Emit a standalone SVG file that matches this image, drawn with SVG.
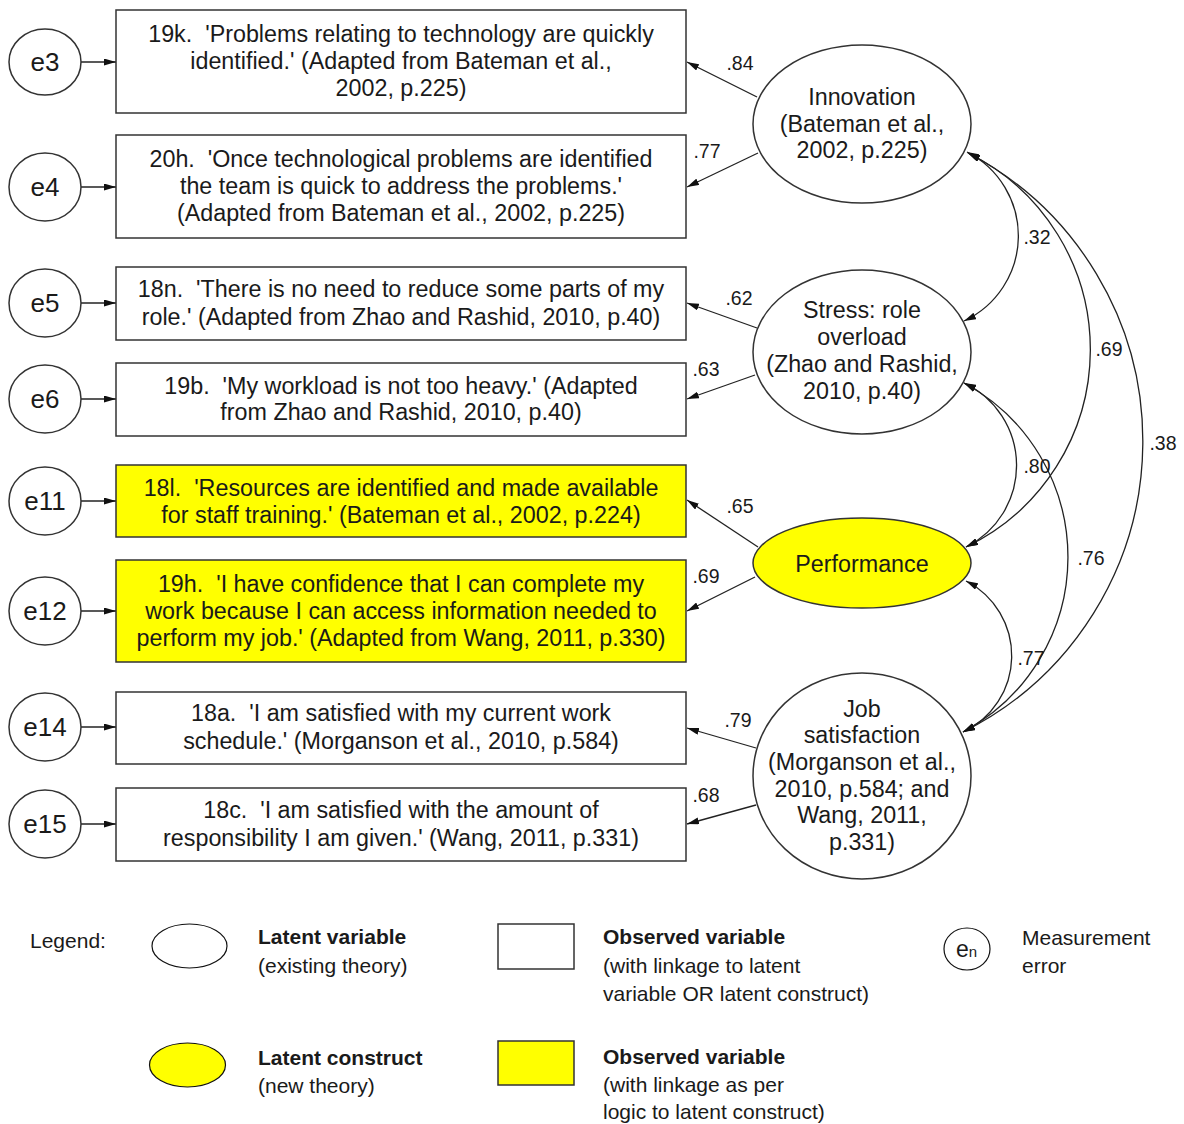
<svg xmlns="http://www.w3.org/2000/svg" width="1184" height="1124" viewBox="0 0 1184 1124">
<style>
.box{fill:#fff;stroke:#333;stroke-width:1.5}
.ybox{fill:#ff0;stroke:#333;stroke-width:1.5}
.ell{fill:#fff;stroke:#333;stroke-width:1.5}
.yell{fill:#ff0;stroke:#333;stroke-width:1.5}
text{font-family:"Liberation Sans",Arial,sans-serif;fill:#1a1a1a}
.t{font-size:23.3px;text-anchor:middle;white-space:pre}
.e{font-size:26px;text-anchor:middle}
.lbl{font-size:19.5px;text-anchor:middle}
.lg{font-size:21px}
.lgb{font-size:21px;font-weight:bold}
.conn{fill:none;stroke:#222;stroke-width:1.3}
</style>
<defs>
<marker id="ah" viewBox="0 0 12 7" refX="12" refY="3.5" markerWidth="12" markerHeight="7" markerUnits="userSpaceOnUse" orient="auto-start-reverse">
<path d="M0,0 L12,3.5 L0,7 z" fill="#111"/>
</marker>
</defs>

<g id="connectors">
<path class="conn" d="M81,62 L116,62" marker-end="url(#ah)"/>
<path class="conn" d="M81,187 L116,187" marker-end="url(#ah)"/>
<path class="conn" d="M81,303 L116,303" marker-end="url(#ah)"/>
<path class="conn" d="M81,399 L116,399" marker-end="url(#ah)"/>
<path class="conn" d="M81,501 L116,501" marker-end="url(#ah)"/>
<path class="conn" d="M81,611 L116,611" marker-end="url(#ah)"/>
<path class="conn" d="M81,727 L116,727" marker-end="url(#ah)"/>
<path class="conn" d="M81,824 L116,824" marker-end="url(#ah)"/>
<path class="conn" d="M757,97 L687,62" marker-end="url(#ah)"/>
<path class="conn" d="M758,153 L687,187" marker-end="url(#ah)"/>
<path class="conn" d="M757,328 L687,303" marker-end="url(#ah)"/>
<path class="conn" d="M755,375 L687,399" marker-end="url(#ah)"/>
<path class="conn" d="M758,547 L687,500" marker-end="url(#ah)"/>
<path class="conn" d="M755,577 L687,611" marker-end="url(#ah)"/>
<path class="conn" d="M756,748 L687,728" marker-end="url(#ah)"/>
<path class="conn" d="M756,805 L687,824" marker-end="url(#ah)"/>
<path class="conn" d="M967,152 A94,94 0 0 1 964,321" marker-start="url(#ah)" marker-end="url(#ah)"/>
<path class="conn" d="M968,153 A219,219 0 0 1 966,547" marker-start="url(#ah)" marker-end="url(#ah)"/>
<path class="conn" d="M968,153 A325,325 0 0 1 963,732" marker-start="url(#ah)" marker-end="url(#ah)"/>
<path class="conn" d="M964,383 A91,91 0 0 1 966,547" marker-start="url(#ah)" marker-end="url(#ah)"/>
<path class="conn" d="M964,383 A198,198 0 0 1 963,732" marker-start="url(#ah)" marker-end="url(#ah)"/>
<path class="conn" d="M966,581 A84,84 0 0 1 963,732" marker-start="url(#ah)" marker-end="url(#ah)"/>
<text class="lbl" x="740" y="70">.84</text>
<text class="lbl" x="707" y="158">.77</text>
<text class="lbl" x="739" y="305">.62</text>
<text class="lbl" x="706" y="376">.63</text>
<text class="lbl" x="740" y="513">.65</text>
<text class="lbl" x="706" y="583">.69</text>
<text class="lbl" x="738" y="727">.79</text>
<text class="lbl" x="706" y="802">.68</text>
<text class="lbl" x="1037" y="244">.32</text>
<text class="lbl" x="1109" y="356">.69</text>
<text class="lbl" x="1163" y="450">.38</text>
<text class="lbl" x="1037" y="473">.80</text>
<text class="lbl" x="1091" y="565">.76</text>
<text class="lbl" x="1031" y="665">.77</text>
</g>

<g id="e3"><ellipse class="ell" cx="45" cy="62" rx="36" ry="33"/><text class="e" x="45" y="71">e3</text></g>
<g id="e4"><ellipse class="ell" cx="45" cy="187" rx="36" ry="34"/><text class="e" x="45" y="196">e4</text></g>
<g id="e5"><ellipse class="ell" cx="45" cy="303" rx="36" ry="34"/><text class="e" x="45" y="312">e5</text></g>
<g id="e6"><ellipse class="ell" cx="45" cy="399" rx="36" ry="34"/><text class="e" x="45" y="408">e6</text></g>
<g id="e11"><ellipse class="ell" cx="45" cy="501" rx="36" ry="34"/><text class="e" x="45" y="510">e11</text></g>
<g id="e12"><ellipse class="ell" cx="45" cy="611" rx="36" ry="34"/><text class="e" x="45" y="620">e12</text></g>
<g id="e14"><ellipse class="ell" cx="45" cy="727" rx="36" ry="34"/><text class="e" x="45" y="736">e14</text></g>
<g id="e15"><ellipse class="ell" cx="45" cy="824" rx="36" ry="34"/><text class="e" x="45" y="833">e15</text></g>

<g id="item19k"><rect class="box" x="116" y="10" width="570" height="103"/>
<text class="t" x="401" y="42">19k.  'Problems relating to technology are quickly</text>
<text class="t" x="401" y="69">identified.' (Adapted from Bateman et al.,</text>
<text class="t" x="401" y="96">2002, p.225)</text></g>

<g id="item20h"><rect class="box" x="116" y="135" width="570" height="103"/>
<text class="t" x="401" y="167">20h.  'Once technological problems are identified</text>
<text class="t" x="401" y="194">the team is quick to address the problems.'</text>
<text class="t" x="401" y="221">(Adapted from Bateman et al., 2002, p.225)</text></g>

<g id="item18n"><rect class="box" x="116" y="267" width="570" height="73"/>
<text class="t" x="401" y="297">18n.  'There is no need to reduce some parts of my</text>
<text class="t" x="401" y="325">role.' (Adapted from Zhao and Rashid, 2010, p.40)</text></g>

<g id="item19b"><rect class="box" x="116" y="363" width="570" height="73"/>
<text class="t" x="401" y="394">19b.  'My workload is not too heavy.' (Adapted</text>
<text class="t" x="401" y="420">from Zhao and Rashid, 2010, p.40)</text></g>

<g id="item18l"><rect class="ybox" x="116" y="465" width="570" height="72"/>
<text class="t" x="401" y="496">18l.  'Resources are identified and made available</text>
<text class="t" x="401" y="523">for staff training.' (Bateman et al., 2002, p.224)</text></g>

<g id="item19h"><rect class="ybox" x="116" y="560" width="570" height="102"/>
<text class="t" x="401" y="592">19h.  'I have confidence that I can complete my</text>
<text class="t" x="401" y="619">work because I can access information needed to</text>
<text class="t" x="401" y="646">perform my job.' (Adapted from Wang, 2011, p.330)</text></g>

<g id="item18a"><rect class="box" x="116" y="692" width="570" height="72"/>
<text class="t" x="401" y="721">18a.  'I am satisfied with my current work</text>
<text class="t" x="401" y="749">schedule.' (Morganson et al., 2010, p.584)</text></g>

<g id="item18c"><rect class="box" x="116" y="788" width="570" height="73"/>
<text class="t" x="401" y="818">18c.  'I am satisfied with the amount of</text>
<text class="t" x="401" y="846">responsibility I am given.' (Wang, 2011, p.331)</text></g>

<g id="innovation"><ellipse class="ell" cx="862" cy="124" rx="109" ry="79"/>
<text class="t" x="862" y="105">Innovation</text>
<text class="t" x="862" y="132">(Bateman et al.,</text>
<text class="t" x="862" y="158">2002, p.225)</text></g>

<g id="stress"><ellipse class="ell" cx="862" cy="352" rx="109" ry="82"/>
<text class="t" x="862" y="318">Stress: role</text>
<text class="t" x="862" y="345">overload</text>
<text class="t" x="862" y="372">(Zhao and Rashid,</text>
<text class="t" x="862" y="399">2010, p.40)</text></g>

<g id="performance"><ellipse class="yell" cx="862" cy="563" rx="109" ry="45"/>
<text class="t" x="862" y="572">Performance</text></g>

<g id="jobsatisfaction"><ellipse class="ell" cx="862" cy="776" rx="109" ry="103"/>
<text class="t" x="862" y="717">Job</text>
<text class="t" x="862" y="743">satisfaction</text>
<text class="t" x="862" y="770">(Morganson et al.,</text>
<text class="t" x="862" y="797">2010, p.584; and</text>
<text class="t" x="862" y="823">Wang, 2011,</text>
<text class="t" x="862" y="850">p.331)</text></g>

<g id="legend">
<text class="lg" x="30" y="948">Legend:</text>
<ellipse class="ell" cx="189.5" cy="946" rx="37.5" ry="22" style="stroke:#111;stroke-width:1.2"/>
<text class="lgb" x="258" y="944">Latent variable</text>
<text class="lg" x="258" y="973">(existing theory)</text>
<ellipse class="yell" cx="187.5" cy="1065" rx="38" ry="22" style="stroke:#111;stroke-width:1.2"/>
<text class="lgb" x="258" y="1065">Latent construct</text>
<text class="lg" x="258" y="1093">(new theory)</text>
<rect class="box" x="498" y="924" width="76" height="45"/>
<text class="lgb" x="603" y="944">Observed variable</text>
<text class="lg" x="603" y="973">(with linkage to latent</text>
<text class="lg" x="603" y="1001">variable OR latent construct)</text>
<rect class="ybox" x="498" y="1041" width="76" height="44"/>
<text class="lgb" x="603" y="1064">Observed variable</text>
<text class="lg" x="603" y="1092">(with linkage as per</text>
<text class="lg" x="603" y="1119">logic to latent construct)</text>
<ellipse class="ell" cx="967" cy="949" rx="23" ry="21" style="stroke:#111;stroke-width:1.2"/>
<text x="956" y="957" style="font-size:23px">e<tspan style="font-size:15px">n</tspan></text>
<text class="lg" x="1022" y="945">Measurement</text>
<text class="lg" x="1022" y="973">error</text>
</g>
</svg>
